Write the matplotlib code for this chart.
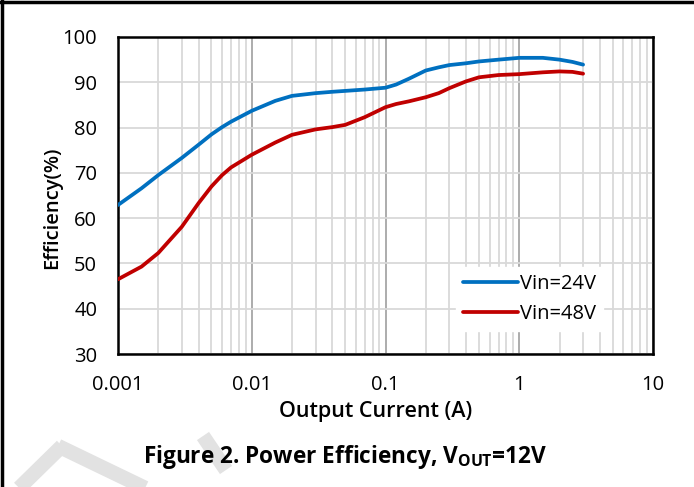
import matplotlib
matplotlib.use("Agg")
import matplotlib.pyplot as plt
from matplotlib.lines import Line2D
from matplotlib.ticker import FixedLocator, NullFormatter

# valores
current_a = [0.001, 0.0015, 0.002, 0.003, 0.004, 0.005, 0.006, 0.007, 0.01,
             0.015, 0.02, 0.03, 0.04, 0.05, 0.07, 0.1, 0.12, 0.15, 0.2,
             0.25, 0.3, 0.4, 0.5, 0.7, 1, 1.5, 2, 2.5, 3]
eff_24v = [62.9, 66.6, 69.5, 73.3, 76.2, 78.5, 80.1, 81.3, 83.7,
           85.9, 87.0, 87.6, 87.9, 88.1, 88.4, 88.8, 89.5, 90.8, 92.6,
           93.3, 93.8, 94.2, 94.6, 95.0, 95.4, 95.4, 95.0, 94.5, 93.9]
eff_48v = [46.5, 49.3, 52.3, 58.1, 63.3, 67.0, 69.5, 71.2, 74.0,
           76.7, 78.4, 79.6, 80.1, 80.6, 82.3, 84.5, 85.2, 85.8, 86.7,
           87.6, 88.7, 90.2, 91.1, 91.6, 91.8, 92.2, 92.4, 92.3, 91.9]
series_labels = ["Vin=24V", "Vin=48V"]
x_ticks = [0.001, 0.01, 0.1, 1, 10]
x_tick_labels = ["0.001", "0.01", "0.1", "1", "10"]
y_ticks = [30, 40, 50, 60, 70, 80, 90, 100]

plt.rcParams['font.family'] = ['Open Sans', 'DejaVu Sans']

W, H = 694, 487
fig = plt.figure(figsize=(W / 100, H / 100), dpi=100)
ax = fig.add_axes([118 / W, 1 - 354 / H, (653 - 118) / W, (354 - 37) / H])

ax.plot(current_a, eff_24v, color="#0070C0", lw=2.7, solid_capstyle="round",
        solid_joinstyle="round", label=series_labels[0], zorder=3)
ax.plot(current_a, eff_48v, color="#C00000", lw=2.7, solid_capstyle="round",
        solid_joinstyle="round", label=series_labels[1], zorder=3)

ax.set_xscale("log")
ax.set_xlim(0.001, 10)
ax.set_ylim(30, 100)
ax.xaxis.set_major_locator(FixedLocator(x_ticks))
ax.set_xticklabels(x_tick_labels)
ax.xaxis.set_minor_locator(FixedLocator(
    [m * 10.0 ** e for e in range(-3, 1) for m in range(2, 10)]))
ax.xaxis.set_minor_formatter(NullFormatter())
ax.set_yticks(y_ticks)

ax.grid(True, which="minor", axis="x", color="#d9d9d9", lw=1.3)
ax.grid(True, which="major", axis="x", color="#a6a6a6", lw=1.3)
ax.grid(True, which="major", axis="y", color="#d9d9d9", lw=1.3)
ax.set_axisbelow(True)
ax.tick_params(which="both", length=0, labelsize=14.5, pad=15)
for s in ax.spines.values():
    s.set_linewidth(1.8)
    s.set_color("black")

leg = ax.legend(loc="lower right", bbox_to_anchor=(0.925, 0.04), frameon=True,
                fontsize=14.5, handlelength=2.7, handletextpad=0.1,
                labelspacing=0.5, borderpad=0.35)
leg.get_frame().set_edgecolor("white")
leg.get_frame().set_facecolor("white")
leg.get_frame().set_alpha(1)
leg.get_frame().set_boxstyle("square", pad=0)

fig.text(52 / W, 1 - 208 / H, "Efficiency(%)", rotation=90, ha="center",
         va="center", fontsize=14.5, fontweight="semibold")
fig.text(376 / W, 1 - 412 / H, "Output Current (A)", ha="center", va="center",
         fontsize=15.5, fontweight="semibold")
fig.text(345 / W, 1 - 457 / H, r"Figure 2. Power Efficiency, V$_{\mathregular{OUT}}$=12V",
         ha="center", va="center", fontsize=16.3, fontweight="bold")

# marca d'água e bordas
wm = dict(color="#e2e2e2", lw=10.5, solid_capstyle="butt", zorder=-1,
          transform=fig.transFigure)
fig.add_artist(Line2D([12 / W, 62 / W], [1 - 495 / H, 1 - 446 / H], **wm))
fig.add_artist(Line2D([58 / W, 170 / W], [1 - 446 / H, 1 - 500 / H], **wm))
fig.add_artist(Line2D([203 / W, 226 / W], [1 - 436 / H, 1 - 470 / H], **wm))
fig.add_artist(Line2D([0, 1], [1 - 1.5 / H, 1 - 1.5 / H], color="black", lw=2.5,
                      transform=fig.transFigure))
fig.add_artist(Line2D([1.5 / W, 1.5 / W], [0, 1], color="black", lw=2.5,
                      transform=fig.transFigure))

fig.savefig("out.png", dpi=100)
